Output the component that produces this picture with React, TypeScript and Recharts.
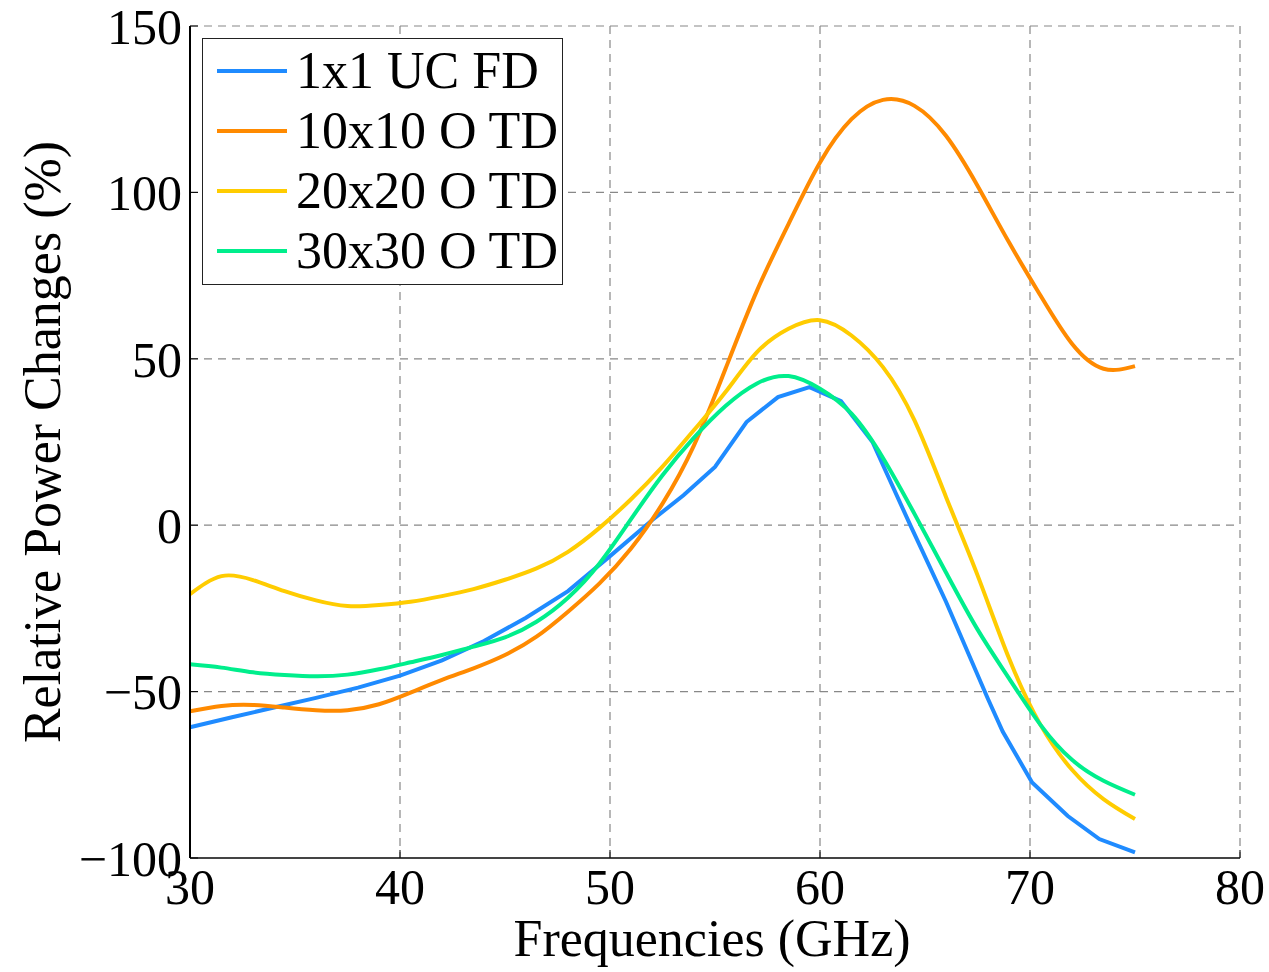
import React from "react";
import { LineChart, Line, XAxis, YAxis, CartesianGrid, Legend } from "recharts";

// shared frequency grid for the time-domain curves (GHz)
const FREQS = [
  30, 31.5, 33, 34.5, 36, 37.5, 39, 40.5, 42, 43.5, 45, 46.5, 48, 49.5, 51, 52.5,
  54, 55.5, 57, 58.5, 60, 61.5, 63, 64.5, 66, 67.5, 69, 70.5, 72, 73.5, 75,
];

// the FD curve has its own sample points (visible corners)
const UC_FREQS = [
  30, 32, 34, 36, 38, 40, 42, 44, 46, 48, 50, 52, 53.5, 55, 56.5, 58, 59.5, 61, 62.5,
  64.3, 66, 68, 68.7, 70.1, 71.8, 73.3, 75,
];
const UC_1X1_FD = [
  -60.7, -57.7, -54.8, -51.9, -48.8, -45.2, -40.6, -34.8, -27.8, -19.8, -9.3, 1.5, 9.0, 17.5, 31.0, 38.5, 41.5, 37.3, 25.0,
  0.0, -23.0, -52.2, -62.0, -77.3, -87.4, -94.3, -98.3,
];

const O_10X10_TD = [
  -55.9, -54.3, -54.0, -54.8, -55.6, -55.6, -53.8, -50.3, -46.5, -43.0, -39.0, -33.5, -26.0, -17.5, -7.0, 6.5,
  24.0, 47.0, 70.5, 90.5, 109.0, 122.0, 127.8, 126.0, 117.0, 102.0, 85.0, 69.0, 54.5, 47.0, 47.8,
];

const O_20X20_TD = [
  -20.7, -15.3, -16.5, -19.8, -22.6, -24.3, -24.0, -23.0, -21.3, -19.2, -16.4, -13.0, -8.0, -0.8, 7.8, 17.6,
  28.6, 40.0, 52.0, 59.0, 61.6, 57.0, 47.5, 31.5, 8.5, -15.0, -40.0, -60.0, -73.5, -82.3, -88.3,
];

const O_30X30_TD = [
  -41.8, -42.8, -44.2, -45.0, -45.4, -44.9, -43.3, -41.2, -39.0, -36.5, -33.7, -29.0, -21.8, -11.5, 1.8, 15.0,
  26.3, 35.8, 42.6, 44.8, 41.0, 33.5, 20.2, 3.4, -14.2, -31.3, -46.0, -60.0, -70.5, -76.8, -81.0,
];

const X_TICKS = [30, 40, 50, 60, 70, 80];
const Y_TICKS = [-100, -50, 0, 50, 100, 150];

const SERIES = [
  { key: "uc1", name: "1x1 UC FD", color: "#1f8bff", type: "linear" },
  { key: "o10", name: "10x10 O TD", color: "#ff8a00", type: "natural" },
  { key: "o20", name: "20x20 O TD", color: "#ffcc00", type: "natural" },
  { key: "o30", name: "30x30 O TD", color: "#00ee8c", type: "natural" },
] as const;

const ucData = UC_FREQS.map((freq, i) => ({ freq, uc1: UC_1X1_FD[i] }));

const tdData = FREQS.map((freq, i) => ({
  freq,
  o10: O_10X10_TD[i],
  o20: O_20X20_TD[i],
  o30: O_30X30_TD[i],
}));

const FONT = "'Liberation Serif', 'Times New Roman', serif";

const fmt = (v: number) => String(v).replace("-", "\u2212");

const LegendBox = () => (
  <div
    style={{
      width: 361,
      height: 247,
      boxSizing: "border-box",
      border: "1.5px solid #222",
      background: "#fff",
      paddingTop: 2,
      paddingLeft: 14,
      fontFamily: FONT,
    }}
  >
    {SERIES.map((s) => (
      <div key={s.key} style={{ display: "flex", alignItems: "center", height: 60 }}>
        <div style={{ width: 70, height: 4, background: s.color, marginRight: 9 }} />
        <span style={{ fontSize: 52, lineHeight: "60px", color: "#000", whiteSpace: "nowrap" }}>
          {s.name}
        </span>
      </div>
    ))}
  </div>
);

const YTitle = () => (
  <text
    x={42}
    y={442}
    transform="rotate(-90 42 442)"
    textAnchor="middle"
    dominantBaseline="central"
    fontSize={52}
    fontFamily={FONT}
    fill="#000"
  >
    Relative Power Changes (%)
  </text>
);

const XTitle = () => (
  <text x={712} y={956} textAnchor="middle" fontSize={52} fontFamily={FONT} fill="#000">
    Frequencies (GHz)
  </text>
);

export default function App() {
  return (
    <div style={{ position: "absolute", left: 0, top: 0, width: 1269, height: 972, background: "#fff" }}>
      <LineChart
        width={1269}
        height={972}
        data={tdData}
        margin={{ top: 26, right: 29, bottom: 0, left: 0 }}
      >
        <CartesianGrid stroke="#888" strokeDasharray="8 6" strokeWidth={1.2} />
        <XAxis
          type="number"
          dataKey="freq"
          domain={[30, 80]}
          ticks={X_TICKS}
          interval={0}
          height={114}
          tickSize={-8}
          tickMargin={18}
          tick={{ fill: "#000", fontSize: 50, fontFamily: FONT }}
          tickLine={{ stroke: "#000" }}
          axisLine={{ stroke: "#444", strokeWidth: 2 }}
          label={{ content: XTitle }}
        />
        <YAxis
          type="number"
          domain={[-100, 150]}
          ticks={Y_TICKS}
          interval={0}
          width={190}
          tickSize={-8}
          tickMargin={16}
          tickFormatter={fmt}
          tick={{ fill: "#000", fontSize: 50, fontFamily: FONT }}
          tickLine={{ stroke: "#000" }}
          axisLine={{ stroke: "#000", strokeWidth: 2 }}
          label={{ content: YTitle }}
        />
        <Legend
          layout="vertical"
          align="center"
          verticalAlign="middle"
          content={LegendBox}
          wrapperStyle={{ left: 202, top: 38, width: 361 }}
        />
        {SERIES.map((s) => (
          <Line
            key={s.key}
            data={s.key === "uc1" ? ucData : undefined}
            dataKey={s.key}
            name={s.name}
            type={s.type}
            stroke={s.color}
            strokeWidth={4}
            dot={false}
            activeDot={false}
            isAnimationActive={false}
          />
        ))}
      </LineChart>
    </div>
  );
}
